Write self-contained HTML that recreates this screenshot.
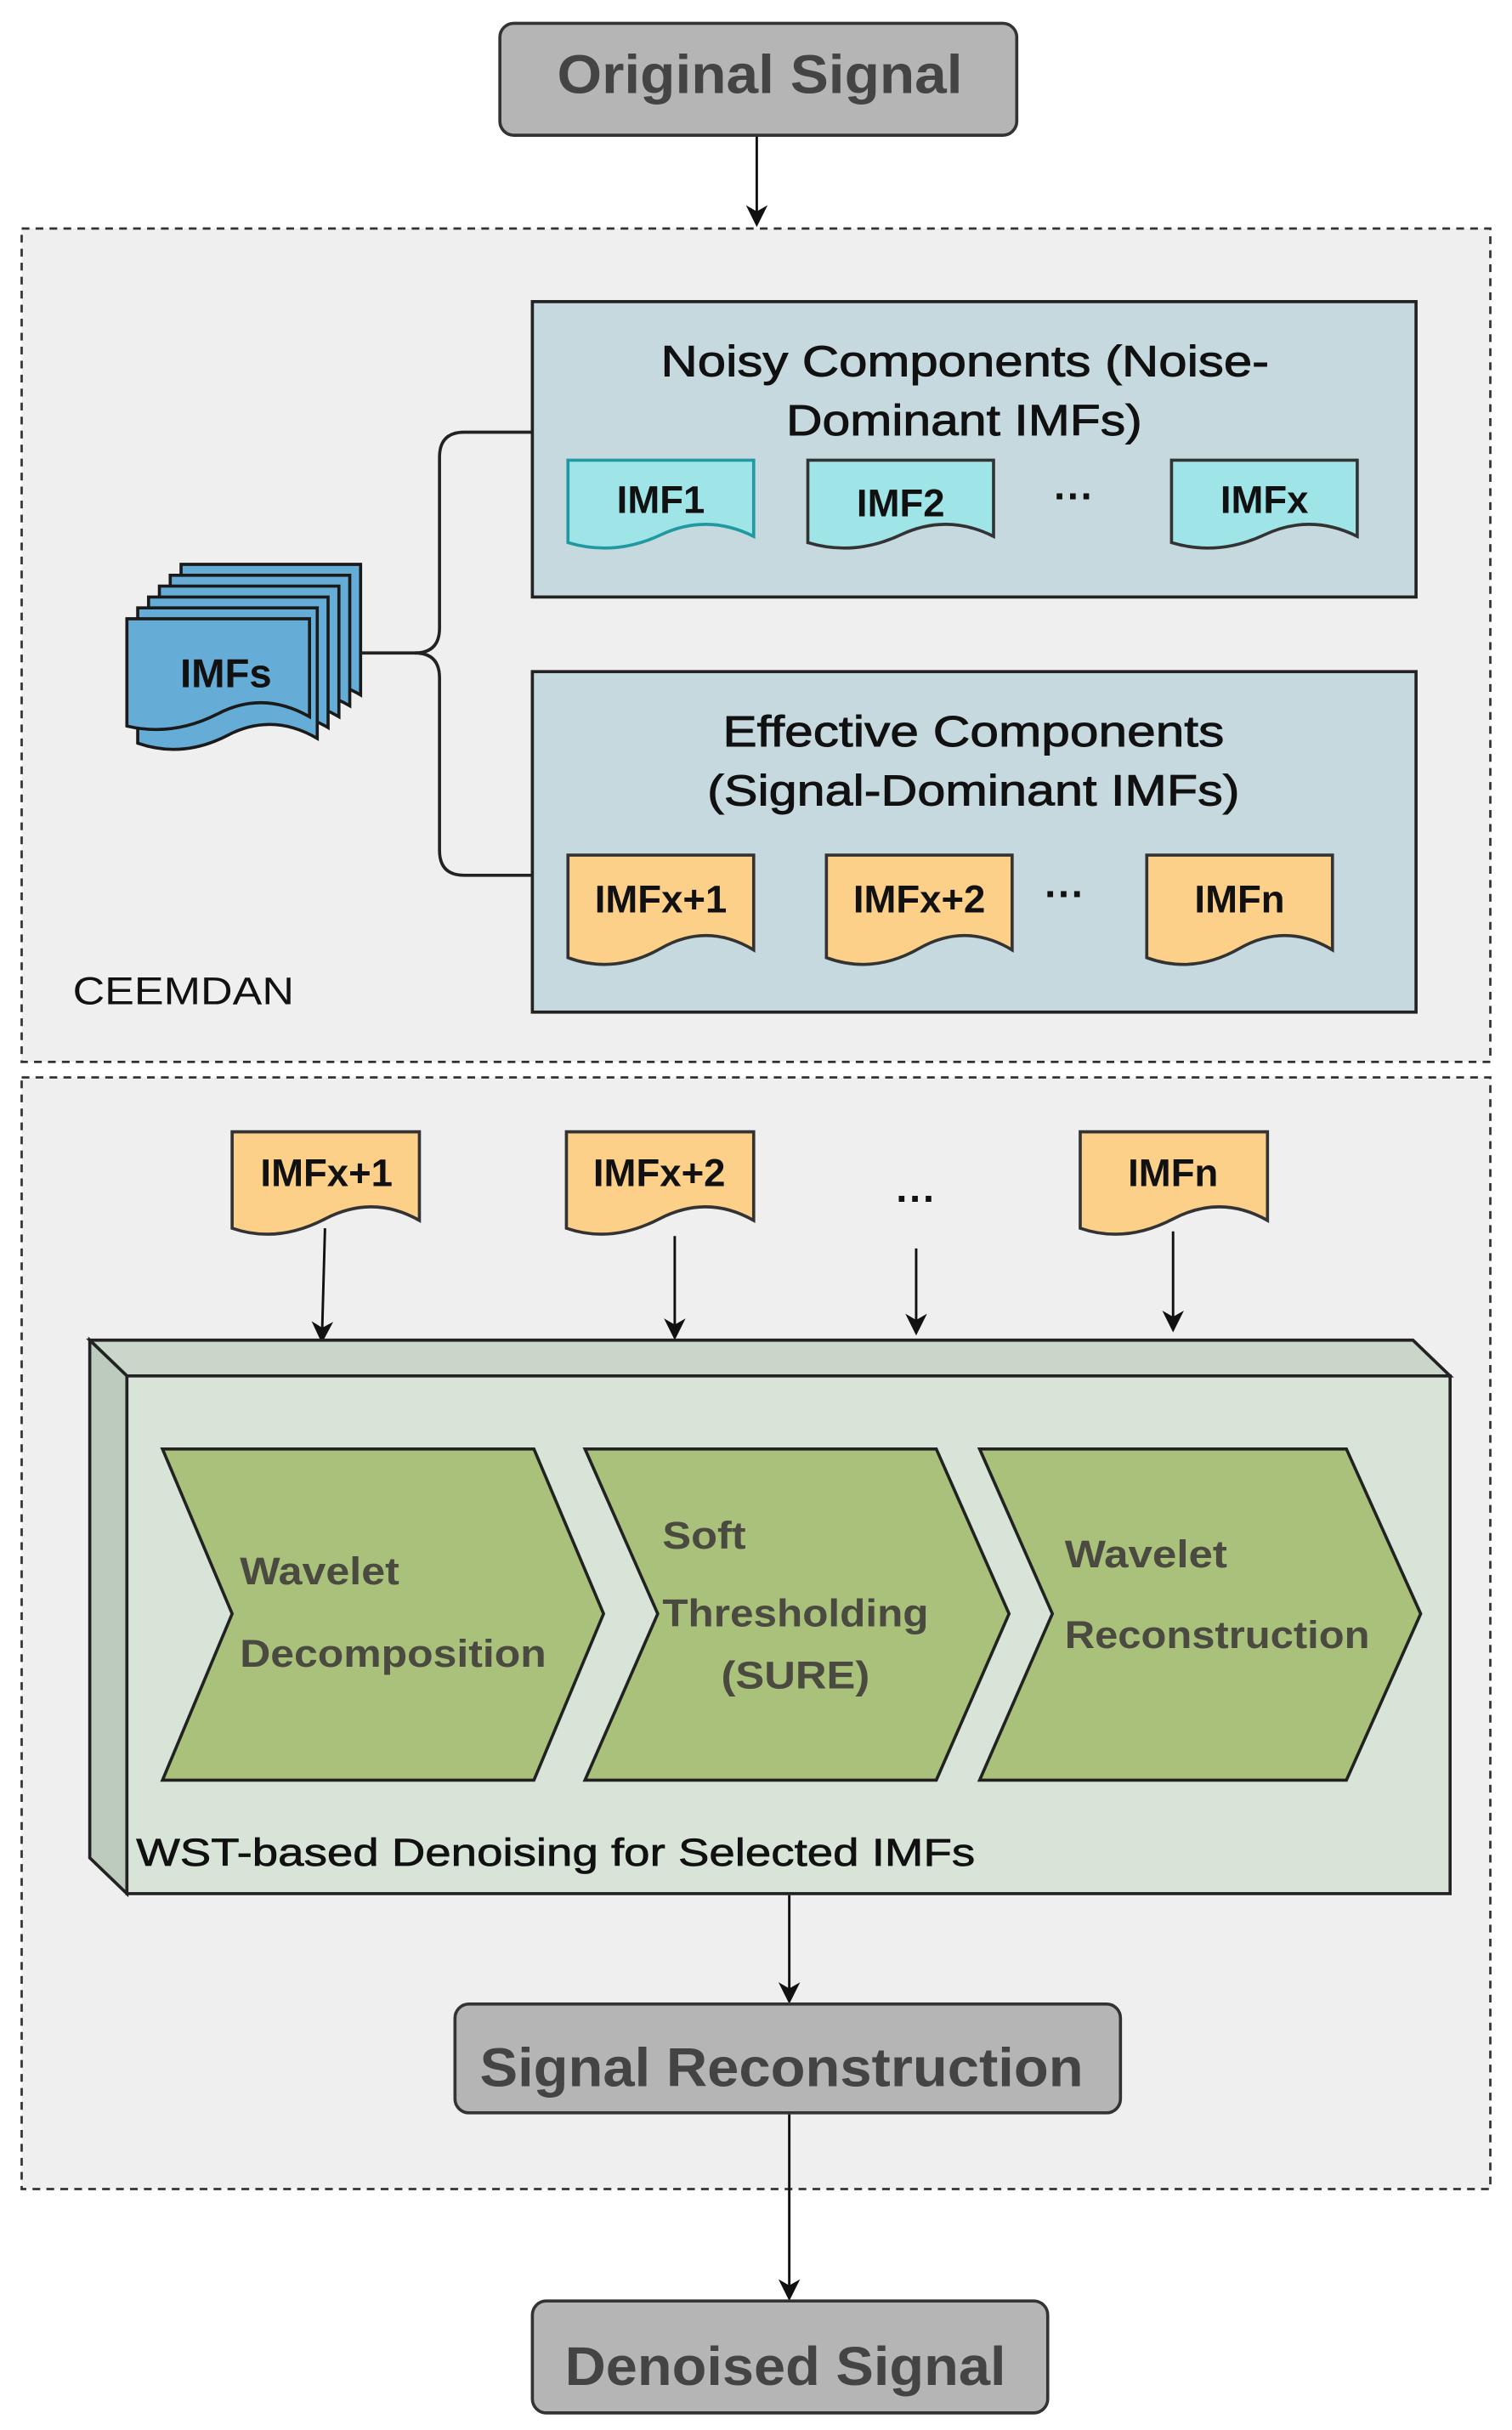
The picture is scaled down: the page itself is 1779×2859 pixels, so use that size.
<!DOCTYPE html>
<html><head><meta charset="utf-8"><style>
html,body{margin:0;padding:0;background:#fff;}
svg{display:block;}
text{font-family:"Liberation Sans",Arial,sans-serif;}
</style></head><body>
<svg width="1779" height="2859" viewBox="0 0 977 1563" preserveAspectRatio="none" xmlns="http://www.w3.org/2000/svg">
<defs>
<marker id="ah" markerWidth="14" markerHeight="14" refX="12" refY="7" orient="auto" markerUnits="userSpaceOnUse">
<path d="M0,0 L14,7 L0,14 L4,7 Z" fill="#111"/>
</marker>
</defs>
<rect width="977" height="1563" fill="#fff"/>

<!-- Original Signal -->
<rect x="323" y="15" width="334" height="72" rx="9" fill="#b5b5b5" stroke="#333" stroke-width="2"/>
<text x="360" y="60" font-size="35" font-weight="bold" fill="#444" textLength="262" lengthAdjust="spacingAndGlyphs">Original Signal</text>
<line x1="489" y1="88" x2="489" y2="144" stroke="#111" stroke-width="1.6" marker-end="url(#ah)"/>

<!-- CEEMDAN box -->
<rect x="14" y="147" width="949" height="536" fill="#efefef" stroke="#333" stroke-width="1.5" stroke-dasharray="5,4"/>
<text x="47" y="646" font-size="25" fill="#111" textLength="143" lengthAdjust="spacingAndGlyphs">CEEMDAN</text>

<!-- Noisy box -->
<rect x="344" y="194" width="571" height="190" fill="#c6d9de" stroke="#222" stroke-width="2"/>
<g font-size="28" fill="#111" stroke="#111" stroke-width="0.5">
<text x="427" y="242" textLength="393" lengthAdjust="spacingAndGlyphs">Noisy Components (Noise-</text>
<text x="508" y="280" textLength="230" lengthAdjust="spacingAndGlyphs">Dominant IMFs)</text>
</g>
<path d="M367 296 H487 V345 Q457 330 427 344 T367 349 Z" fill="#9fe4e6" stroke="#1e9aa0" stroke-width="2"/>
<path d="M522 296 H642 V345 Q612 330 582 344 T522 349 Z" fill="#9fe4e6" stroke="#333" stroke-width="2"/>
<path d="M757 296 H877 V345 Q847 330 817 344 T757 349 Z" fill="#9fe4e6" stroke="#333" stroke-width="2"/>
<text x="427" y="330" font-size="25" font-weight="bold" fill="#111" text-anchor="middle">IMF1</text>
<text x="582" y="332" font-size="25" font-weight="bold" fill="#111" text-anchor="middle">IMF2</text>
<text x="817" y="330" font-size="25" font-weight="bold" fill="#111" text-anchor="middle">IMFx</text>
<text x="694" y="328" font-size="26" font-weight="bold" fill="#111" text-anchor="middle">···</text>

<!-- Effective box -->
<rect x="344" y="432" width="571" height="219" fill="#c6d9de" stroke="#222" stroke-width="2"/>
<g font-size="28" fill="#111" stroke="#111" stroke-width="0.5">
<text x="467" y="480" textLength="324" lengthAdjust="spacingAndGlyphs">Effective Components</text>
<text x="457" y="518" textLength="344" lengthAdjust="spacingAndGlyphs">(Signal-Dominant IMFs)</text>
</g>
<path d="M367 550 H487 V611 Q457 593 427 610 T367 616 Z" fill="#fdd08a" stroke="#333" stroke-width="2"/>
<path d="M534 550 H654 V611 Q624 593 594 610 T534 616 Z" fill="#fdd08a" stroke="#333" stroke-width="2"/>
<path d="M741 550 H861 V611 Q831 593 801 610 T741 616 Z" fill="#fdd08a" stroke="#333" stroke-width="2"/>
<text x="427" y="587" font-size="25" font-weight="bold" fill="#111" text-anchor="middle">IMFx+1</text>
<text x="594" y="587" font-size="25" font-weight="bold" fill="#111" text-anchor="middle">IMFx+2</text>
<text x="801" y="587" font-size="25" font-weight="bold" fill="#111" text-anchor="middle">IMFn</text>
<text x="688" y="584" font-size="26" font-weight="bold" fill="#111" text-anchor="middle">···</text>

<!-- IMFs stack -->
<g fill="#65acd6" stroke="#1a1a1a" stroke-width="2">
<path d="M117 363 H233 V447 Q204 430 175 445 T117 450 Z"/>
<path d="M110 370 H226 V454 Q197 437 168 452 T110 457 Z"/>
<path d="M103 377 H219 V461 Q190 444 161 459 T103 464 Z"/>
<path d="M96 384 H212 V468 Q183 451 154 466 T96 471 Z"/>
<path d="M89 391 H205 V475 Q176 458 147 473 T89 478 Z"/>
<path d="M82 398 H200 V461 Q170 444 141 459 T82 467 Z"/>
</g>
<text x="146" y="442" font-size="26" font-weight="bold" fill="#111" text-anchor="middle">IMFs</text>

<!-- connector -->
<path d="M233 420 H268 Q284 420 284 404 V294 Q284 278 300 278 H344" fill="none" stroke="#222" stroke-width="2"/>
<path d="M268 420 Q284 420 284 436 V547 Q284 563 300 563 H344" fill="none" stroke="#222" stroke-width="2"/>

<!-- Second dashed box -->
<rect x="14" y="693" width="949" height="715" fill="#efefef" stroke="#333" stroke-width="1.5" stroke-dasharray="5,4"/>

<path d="M150 728 H271 V785 Q241 768 210 784 T150 790 Z" fill="#fdd08a" stroke="#333" stroke-width="2"/>
<path d="M366 728 H487 V785 Q457 768 426 784 T366 790 Z" fill="#fdd08a" stroke="#333" stroke-width="2"/>
<path d="M698 728 H819 V785 Q789 768 758 784 T698 790 Z" fill="#fdd08a" stroke="#333" stroke-width="2"/>
<text x="211" y="763" font-size="25" font-weight="bold" fill="#111" text-anchor="middle">IMFx+1</text>
<text x="426" y="763" font-size="25" font-weight="bold" fill="#111" text-anchor="middle">IMFx+2</text>
<text x="758" y="763" font-size="25" font-weight="bold" fill="#111" text-anchor="middle">IMFn</text>
<text x="592" y="780" font-size="26" font-weight="bold" fill="#111" text-anchor="middle">···</text>

<g stroke="#111" stroke-width="1.6" marker-end="url(#ah)">
<line x1="210" y1="790" x2="208" y2="862"/>
<line x1="436" y1="795" x2="436" y2="860"/>
<line x1="592" y1="803" x2="592" y2="857"/>
<line x1="758" y1="792" x2="758" y2="855"/>
</g>

<!-- 3D box -->
<path d="M58 862 H913 L937 885 H82 Z" fill="#c9d6c9" stroke="#222" stroke-width="2"/>
<path d="M58 862 L82 885 V1218 L58 1195 Z" fill="#bccbbc" stroke="#222" stroke-width="2"/>
<rect x="82" y="885" width="855" height="333" fill="#d9e4d9" stroke="#222" stroke-width="2"/>

<g fill="#a9c17a" stroke="#222" stroke-width="2">
<path d="M105 932 H345 L390 1038 L345 1145 H105 L150 1038 Z"/>
<path d="M378 932 H605 L652 1038 L605 1145 H378 L425 1038 Z"/>
<path d="M633 932 H870 L918 1038 L870 1145 H633 L680 1038 Z"/>
</g>
<g font-size="25" font-weight="bold" fill="#4a4a40" lengthAdjust="spacingAndGlyphs">
<text x="155" y="1019" textLength="103" lengthAdjust="spacingAndGlyphs">Wavelet</text>
<text x="155" y="1072" textLength="198" lengthAdjust="spacingAndGlyphs">Decomposition</text>
<text x="428" y="996" textLength="54" lengthAdjust="spacingAndGlyphs">Soft</text>
<text x="428" y="1046" textLength="172" lengthAdjust="spacingAndGlyphs">Thresholding</text>
<text x="466" y="1086" textLength="96" lengthAdjust="spacingAndGlyphs">(SURE)</text>
<text x="688" y="1008" textLength="105" lengthAdjust="spacingAndGlyphs">Wavelet</text>
<text x="688" y="1060" textLength="197" lengthAdjust="spacingAndGlyphs">Reconstruction</text>
</g>
<text x="88" y="1200" font-size="25" fill="#111" stroke="#111" stroke-width="0.4" textLength="542" lengthAdjust="spacingAndGlyphs">WST-based Denoising for Selected IMFs</text>

<line x1="510" y1="1219" x2="510" y2="1287" stroke="#111" stroke-width="1.6" marker-end="url(#ah)"/>

<rect x="294" y="1289" width="430" height="70" rx="9" fill="#b5b5b5" stroke="#333" stroke-width="2"/>
<text x="310" y="1342" font-size="35" font-weight="bold" fill="#444" textLength="390" lengthAdjust="spacingAndGlyphs">Signal Reconstruction</text>

<line x1="510" y1="1360" x2="510" y2="1478" stroke="#111" stroke-width="1.6" marker-end="url(#ah)"/>

<rect x="344" y="1480" width="333" height="72" rx="9" fill="#b5b5b5" stroke="#333" stroke-width="2"/>
<text x="365" y="1534" font-size="35" font-weight="bold" fill="#444" textLength="285" lengthAdjust="spacingAndGlyphs">Denoised Signal</text>
</svg>
</body></html>
